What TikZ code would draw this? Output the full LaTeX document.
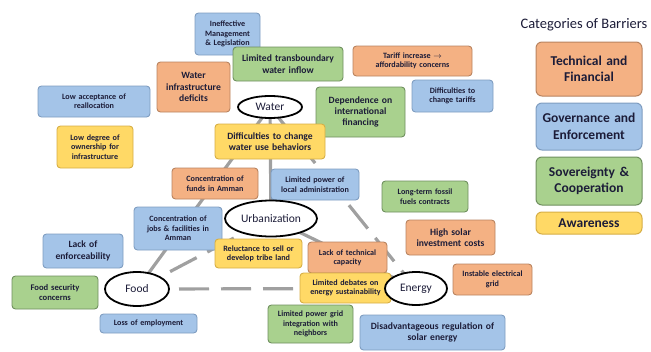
\documentclass[tikz,border=0pt]{standalone}
\usepackage{fontspec}
\setmainfont{Carlito}
\usetikzlibrary{shapes.geometric}
\definecolor{orgF}{HTML}{F4B183}
\definecolor{orgD}{HTML}{B9835F}
\definecolor{bluF}{HTML}{A4C4E8}
\definecolor{bluD}{HTML}{7F9DC0}
\definecolor{grnF}{HTML}{A9D18E}
\definecolor{grnD}{HTML}{6F8F5E}
\definecolor{yelF}{HTML}{FFD966}
\definecolor{yelD}{HTML}{D6AE45}
\definecolor{txt}{HTML}{1C1C38}
\definecolor{lnk}{HTML}{A0A0A0}
\tikzset{
  bx/.style={rounded corners=3.5pt, line width=0.9pt, align=center, inner sep=1pt, text=txt, font=\bfseries\fontsize{8.1}{9.4}\selectfont},
  med/.style={font=\bfseries\fontsize{9.6}{11.4}\selectfont},
  org/.style={bx, fill=orgF, draw=orgD},
  blu/.style={bx, fill=bluF, draw=bluD},
  grn/.style={bx, fill=grnF, draw=grnD},
  yel/.style={bx, fill=yelF, draw=yelD},
  sz/.style n args={2}{minimum width=#1, minimum height=#2, text width=#1-2pt},
  hub/.style={ellipse, draw=black, line width=1.8pt, fill=white, inner sep=0pt, font=\fontsize{11.5}{13}\selectfont, text=txt},
  lnksolid/.style={draw=lnk, line width=3.2pt},
  lnkdash/.style={draw=lnk, line width=3.2pt, dash pattern=on 30pt off 12pt},
  leg/.style={bx, minimum width=106pt, text width=104pt, line width=1pt, rounded corners=6pt, font=\bfseries\fontsize{13.5}{16.5}\selectfont},
}
\begin{document}
\begin{tikzpicture}[x=1pt,y=-1pt]
\useasboundingbox (0,0) rectangle (651,351);
% hubs positions
\coordinate (cW) at (270,107);
\coordinate (cU) at (271,218.5);
\coordinate (cF) at (137,289);
\coordinate (cE) at (416,288.5);
% connectors
\draw[lnksolid] (cW) -- (cF);
\draw[lnksolid] (cW) -- (cU);
\draw[lnksolid] (cU) -- (cE);
\draw[lnkdash] (cW) -- (cE);
\draw[lnkdash] (cU) -- (cF);
\draw[lnkdash] (cF) -- (cE);
% boxes
\node[blu, sz={65pt}{42pt}] (ineff) at (227.5,34) {Ineffective\\Management\\\& Legislation};
\node[grn, med, sz={110pt}{34pt}] (trans) at (288,64) {Limited transboundary\\water inflow};
\node[org, med, sz={73pt}{50pt}] (wid) at (193.5,87) {Water\\infrastructure\\deficits};
\node[blu, sz={112pt}{31pt}] (lowacc) at (94,101.5) {Low acceptance of\\reallocation};
\node[yel, sz={76pt}{42pt}] (lowdeg) at (95,147) {Low degree of\\ownership for\\infrastructure};
\node[grn, med, sz={89pt}{50pt}] (dep) at (360.5,112) {Dependence on\\international\\financing};
\node[yel, med, sz={110pt}{35pt}] (diffw) at (270,141.5) {Difficulties to change\\water use behaviors};
\node[org, sz={119pt}{30pt}] (tariff) at (412.5,61) {Tariff increase $\rightarrow$\\affordability concerns};
\node[blu, sz={81pt}{32pt}] (difft) at (452.5,96) {Difficulties to\\change tariffs};
\node[org, sz={86pt}{31pt}] (funds) at (215,183.5) {Concentration of\\funds in Amman};
\node[blu, sz={88pt}{31pt}] (lpow) at (315,184.5) {Limited power of\\local administration};
\node[grn, sz={86pt}{31pt}] (fossil) at (425,196.5) {Long-term fossil\\fuels contracts};
\node[blu, sz={88pt}{43pt}] (jobs) at (178,228.5) {Concentration of\\jobs \& facilities in\\Amman};
\node[org, med, sz={89pt}{35pt}] (hsolar) at (450.5,237.5) {High solar\\investment costs};
\node[blu, med, sz={80pt}{34pt}] (enf) at (83,251) {Lack of\\enforceability};
\node[yel, sz={87pt}{29pt}] (reluct) at (258.5,253.5) {Reluctance to sell or\\develop tribe land};
\node[org, sz={79pt}{31pt}] (ltech) at (347.5,257.5) {Lack of technical\\capacity};
\node[org, sz={79pt}{31pt}] (instab) at (492.5,279.5) {Instable electrical\\grid};
\node[grn, sz={86pt}{33pt}, font=\bfseries\fontsize{8.6}{10.5}\selectfont] (foodsec) at (55,292.5) {Food security\\concerns};
\node[grn, sz={85pt}{38pt}] (lgrid) at (310.5,324) {Limited power grid\\integration with\\neighbors};
\node[yel, sz={91pt}{30pt}] (ldeb) at (345.5,288) {Limited debates on\\energy sustainability};
\node[blu, sz={97pt}{19pt}] (loss) at (148.5,323.5) {Loss of employment};
\node[blu, med, sz={145pt}{35pt}] (disadv) at (432.5,332.5) {Disadvantageous regulation of\\solar energy};
% hubs
\node[hub, minimum width=64pt, minimum height=22pt] (water) at (cW) {Water};
\node[hub, minimum width=92pt, minimum height=36pt] (urban) at (cU) {Urbanization};
\node[hub, minimum width=64pt, minimum height=34pt] (food) at (cF) {Food};
\node[hub, minimum width=62pt, minimum height=33pt] (energy) at (cE) {Energy};
% legend
\node[text=txt, font=\fontsize{14.5}{17}\selectfont] (legtitle) at (584,25) {Categories of Barriers};
\node[leg, fill=orgF, draw=orgD, minimum height=54pt] (legtf) at (589,69) {Technical and\\Financial};
\node[leg, fill=bluF, draw=bluD, minimum height=47pt] (legge) at (589,126.5) {Governance and\\Enforcement};
\node[leg, fill=grnF, draw=grnD, minimum height=48pt] (legsc) at (589,181) {Sovereignty \&\\Cooperation};
\node[leg, fill=yelF, draw=yelD, minimum height=22pt] (legaw) at (589,223) {Awareness};
\end{tikzpicture}
\end{document}
